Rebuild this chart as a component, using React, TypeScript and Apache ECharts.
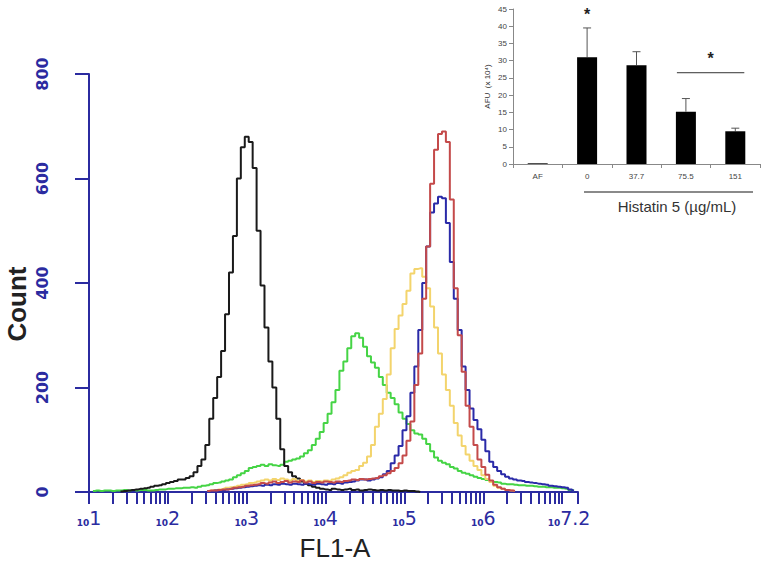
import React, { useEffect, useRef } from "react";
import * as echarts from "echarts";

// ---------- Main histogram data (x = log10 of FL1-A, bins of 0.05) ----------
const BIN = 0.05;

const blackStart = 1.4;
const blackCounts = [
  1, 2, 3, 4, 5, 6, 7, 8,
  10, 12, 13, 15, 17, 19, 21, 24, 24, 27,
  30, 38, 50, 62, 90, 140, 180, 220, 270, 340,
  420, 490, 600, 660, 680, 670, 620, 500, 395, 315,
  250, 200, 140, 82, 50, 38, 30, 26, 20, 16,
  13, 10, 8, 6, 5, 4, 6, 5, 4, 5,
  6, 4, 5, 3, 4, 5, 4, 3, 4, 3,
  4, 3, 3, 2, 3, 2, 2, 1, 0,
];

const greenStart = 1.05;
const greenCounts = [
  2, 3, 2, 3, 3, 2, 3, 3, 4, 3, 4, 3, 4, 4, 3,
  3, 4, 5, 5, 6, 6, 7, 7, 8, 8,
  9, 8, 10, 12, 13, 15, 17, 18, 20, 22,
  24, 28, 32, 36, 40, 46, 48, 50, 52, 50,
  53, 51, 50, 52,
  58, 60, 62, 64, 68, 74, 80, 90, 102, 115,
  132, 150, 172, 195, 232, 250, 275, 298, 304, 295,
  278, 260, 248, 238, 220, 205, 190, 180, 168, 152,
  140, 130, 118, 112, 110, 102, 92, 78, 66, 60,
  56, 53, 48, 45, 40, 37, 35, 32, 29, 27,
  25, 23, 21, 19, 18, 16, 15, 15, 14, 13,
  13, 12, 12, 11, 10, 10, 9, 9, 8, 8,
  7, 6, 4, 3,
];

const yellowStart = 2.5;
const yellowCounts = [
  2, 3, 4, 5, 6, 8, 9, 10, 12, 14,
  15, 17, 18, 20, 22, 24, 22, 25, 23, 26,
  24, 22, 25, 21, 23, 20, 22, 19, 21, 20,
  22, 21, 24, 26, 28, 32,
  37, 40, 42, 50, 56, 68, 90, 125, 150, 178,
  225, 275, 312, 338, 360, 385, 418, 427, 428, 412,
  390, 355, 315, 265, 225, 195, 165, 132, 108, 88,
  72, 60, 50, 42, 32, 25, 19, 12, 8, 6,
  4, 3, 2,
];

const blueStart = 2.5;
const blueCounts = [
  2, 2, 3, 4, 4, 5, 6, 7, 8, 9,
  10, 11, 12, 13, 12, 14, 13, 15, 14, 16,
  15, 14, 16, 15, 14, 16, 15, 14, 16, 15,
  14, 16, 15, 17, 16, 18, 19, 20, 22, 24,
  24, 22, 24, 26, 28, 34, 40, 55, 70, 88,
  118, 145, 190, 240, 310, 400, 470, 535, 552, 565,
  562, 515, 440, 370, 310, 240, 195, 160, 138, 120,
  100, 78, 58, 48, 40, 34, 29, 26, 24, 22,
  21, 19, 18, 17, 16, 15, 14, 12, 11, 10,
  9, 8, 5, 3,
];

const redStart = 2.5;
const redCounts = [
  2, 3, 3, 4, 5, 5, 6, 8, 9, 10,
  12, 13, 14, 15, 17, 16, 18, 20, 17, 19,
  21, 18, 20, 19, 22, 18, 20, 17, 19, 18,
  20, 19, 18, 20, 19, 21, 22, 24, 23, 25,
  24, 25, 26, 27, 30, 32, 36, 40, 46, 55,
  70, 98, 135, 205, 265, 370, 470, 590, 655, 685,
  690, 670, 560, 390, 300, 230, 165, 125, 90, 62,
  48, 33, 22, 14, 9, 6, 4, 3, 2,
];

const xLabelExponents = [1, 2, 3, 4, 5, 6, 7.2];

// ---------- Inset bar chart data ----------
const insetCategories = ["AF", "0", "37.7", "75.5", "151"];
const insetValues = [0.2, 31, 28.7, 15.2, 9.5];
const insetErrUpper = [null, 39.5, 32.6, 19, 10.4];
const starCategories = ["0"];
const starValues = [43.5];
const bracketFrom = "75.5";
const bracketTo = "151";
const bracketLevel = 26.5;
const bracketStarValue = 30.5;

const AXIS_BLUE = "#2b2ba0";

function toPairs(start: number, counts: number[]) {
  return counts.map((c, i) => [Math.round((start + i * BIN) * 100) / 100, c]);
}

// log-decade tick positions for the exponent axis
function logTicks(min: number, max: number) {
  const out: number[] = [];
  for (let n = Math.floor(min); n <= Math.ceil(max); n++) {
    for (let k = 1; k <= 9; k++) {
      const v = n + Math.log10(k);
      if (v >= min - 1e-9 && v <= max + 1e-9) out.push(v);
    }
  }
  out.push(max);
  return out;
}

export default function App() {
  const ref = useRef<HTMLDivElement>(null);

  useEffect(() => {
    if (!ref.current) return;
    const chart = echarts.init(ref.current, undefined, { renderer: "svg" });

    const lineSeries = (name: string, color: string, start: number, counts: number[]) => ({
      type: "line",
      name,
      xAxisIndex: 0,
      yAxisIndex: 0,
      step: "middle",
      showSymbol: false,
      symbol: "none",
      data: toPairs(start, counts),
      lineStyle: { color, width: 2 },
      itemStyle: { color },
      z: 3,
    });

    const errData = insetErrUpper
      .map((u, i) => (u == null ? null : [i, insetValues[i], u]))
      .filter((d) => d !== null);

    const option: any = {
      animation: false,
      backgroundColor: "#ffffff",
      grid: [
        { left: 89, top: 74, width: 489, height: 418 },
        { left: 513, top: 9, width: 247, height: 155 },
      ],
      xAxis: [
        {
          type: "value",
          gridIndex: 0,
          min: 1,
          max: 7.2,
          splitLine: { show: false },
          axisLine: { show: true, onZero: false, lineStyle: { color: AXIS_BLUE, width: 2 } },
          axisTick: {
            show: true,
            length: 12,
            customValues: logTicks(1, 7.2),
            lineStyle: { color: AXIS_BLUE, width: 2 },
          },
          axisLabel: {
            customValues: xLabelExponents,
            margin: 16,
            formatter: (v: number) => {
              const e = Math.round(v * 10) / 10;
              return Number.isInteger(e) ? `{s|10}{b|${e}}` : `{s|10}{c|${e}}`;
            },
            rich: {
              s: { fontSize: 9, fontWeight: "bold", color: AXIS_BLUE, fontFamily: "DejaVu Sans", verticalAlign: "bottom" },
              b: { fontSize: 19, color: AXIS_BLUE, fontFamily: "DejaVu Sans", verticalAlign: "bottom" },
              c: { fontSize: 19, color: AXIS_BLUE, fontFamily: "DejaVu Sans", verticalAlign: "bottom", padding: [0, 18, 0, 0] },
            },
          },
        },
        {
          type: "category",
          gridIndex: 1,
          data: insetCategories,
          axisLine: { lineStyle: { color: "#888", width: 1 } },
          axisTick: { show: true, length: 4, lineStyle: { color: "#888" } },
          axisLabel: { interval: 0, fontSize: 8, color: "#444", margin: 8, fontFamily: "Liberation Sans" },
        },
      ],
      yAxis: [
        {
          type: "value",
          gridIndex: 0,
          min: 0,
          max: 800,
          interval: 200,
          splitLine: { show: false },
          axisLine: { show: true, lineStyle: { color: AXIS_BLUE, width: 2 } },
          axisTick: { show: true, length: 14, lineStyle: { color: AXIS_BLUE, width: 2 } },
          axisLabel: {
            rotate: 90,
            margin: 39,
            color: AXIS_BLUE,
            fontFamily: "DejaVu Sans",
            fontWeight: "bold",
            fontSize: 16,
          },
        },
        {
          type: "value",
          gridIndex: 1,
          min: 0,
          max: 45,
          interval: 5,
          splitLine: { show: false },
          axisLine: { show: true, lineStyle: { color: "#888", width: 1 } },
          axisTick: { show: true, length: 4, lineStyle: { color: "#888" } },
          axisLabel: { fontSize: 8, color: "#444", margin: 6, fontFamily: "Liberation Sans" },
          name: "AFU  (x 10⁴)",
          nameLocation: "middle",
          nameRotate: 90,
          nameGap: 22,
          nameTextStyle: { fontSize: 8, color: "#333", fontFamily: "Liberation Sans" },
        },
      ],
      series: [
        lineSeries("green", "#45d445", greenStart, greenCounts),
        lineSeries("black", "#1a1a1a", blackStart, blackCounts),
        lineSeries("yellow", "#f3d46c", yellowStart, yellowCounts),
        lineSeries("blue", "#2a2aa8", blueStart, blueCounts),
        lineSeries("red", "#c44a4a", redStart, redCounts),
        {
          type: "bar",
          xAxisIndex: 1,
          yAxisIndex: 1,
          data: insetValues,
          barWidth: 20,
          itemStyle: { color: "#000" },
          z: 3,
        },
        {
          type: "custom",
          xAxisIndex: 1,
          yAxisIndex: 1,
          data: errData,
          z: 2,
          renderItem: (params: any, api: any) => {
            const i = api.value(0);
            const p0 = api.coord([i, api.value(1)]);
            const p1 = api.coord([i, api.value(2)]);
            return {
              type: "group",
              children: [
                { type: "line", shape: { x1: p0[0], y1: p0[1], x2: p1[0], y2: p1[1] }, style: { stroke: "#555", lineWidth: 1 } },
                { type: "line", shape: { x1: p1[0] - 4, y1: p1[1], x2: p1[0] + 4, y2: p1[1] }, style: { stroke: "#555", lineWidth: 1 } },
              ],
            };
          },
        },
        {
          type: "custom",
          xAxisIndex: 1,
          yAxisIndex: 1,
          data: starCategories.map((c, i) => [insetCategories.indexOf(c), starValues[i]]),
          z: 4,
          renderItem: (params: any, api: any) => {
            const p = api.coord([api.value(0), api.value(1)]);
            return {
              type: "text",
              x: p[0],
              y: p[1],
              style: { text: "*", fontSize: 16, fontWeight: "bold", fill: "#222", align: "center", verticalAlign: "middle", fontFamily: "Liberation Sans" },
            };
          },
        },
        {
          type: "custom",
          xAxisIndex: 1,
          yAxisIndex: 1,
          data: [[insetCategories.indexOf(bracketFrom), insetCategories.indexOf(bracketTo), bracketLevel, bracketStarValue]],
          z: 4,
          renderItem: (params: any, api: any) => {
            const a = api.coord([api.value(0), api.value(2)]);
            const b = api.coord([api.value(1), api.value(2)]);
            const s = api.coord([api.value(0), api.value(3)]);
            return {
              type: "group",
              children: [
                { type: "line", shape: { x1: a[0] - 9, y1: a[1], x2: b[0] + 9, y2: b[1] }, style: { stroke: "#333", lineWidth: 1 } },
                {
                  type: "text",
                  x: (a[0] + b[0]) / 2,
                  y: s[1],
                  style: { text: "*", fontSize: 16, fontWeight: "bold", fill: "#222", align: "center", verticalAlign: "middle", fontFamily: "Liberation Sans" },
                },
              ],
            };
          },
        },
      ],
      graphic: [
        {
          type: "text",
          x: 17,
          y: 304,
          rotation: Math.PI / 2,
          style: { text: "Count", fontSize: 26, fontWeight: "bold", fill: "#222", align: "center", verticalAlign: "middle", fontFamily: "Liberation Sans" },
        },
        {
          type: "text",
          x: 335,
          y: 548,
          style: { text: "FL1-A", fontSize: 26, fill: "#222", align: "center", verticalAlign: "middle", fontFamily: "Liberation Sans" },
        },
        {
          type: "line",
          shape: { x1: 584, y1: 192, x2: 753, y2: 192 },
          style: { stroke: "#8a8a8a", lineWidth: 2 },
        },
        {
          type: "text",
          x: 677,
          y: 206,
          style: { text: "Histatin 5 (µg/mL)", fontSize: 15, fill: "#333", align: "center", verticalAlign: "middle", fontFamily: "Liberation Sans" },
        },
      ],
    };

    chart.setOption(option);
    return () => chart.dispose();
  }, []);

  return <div ref={ref} style={{ width: 762, height: 574, position: "absolute", left: 0, top: 0 }} />;
}
